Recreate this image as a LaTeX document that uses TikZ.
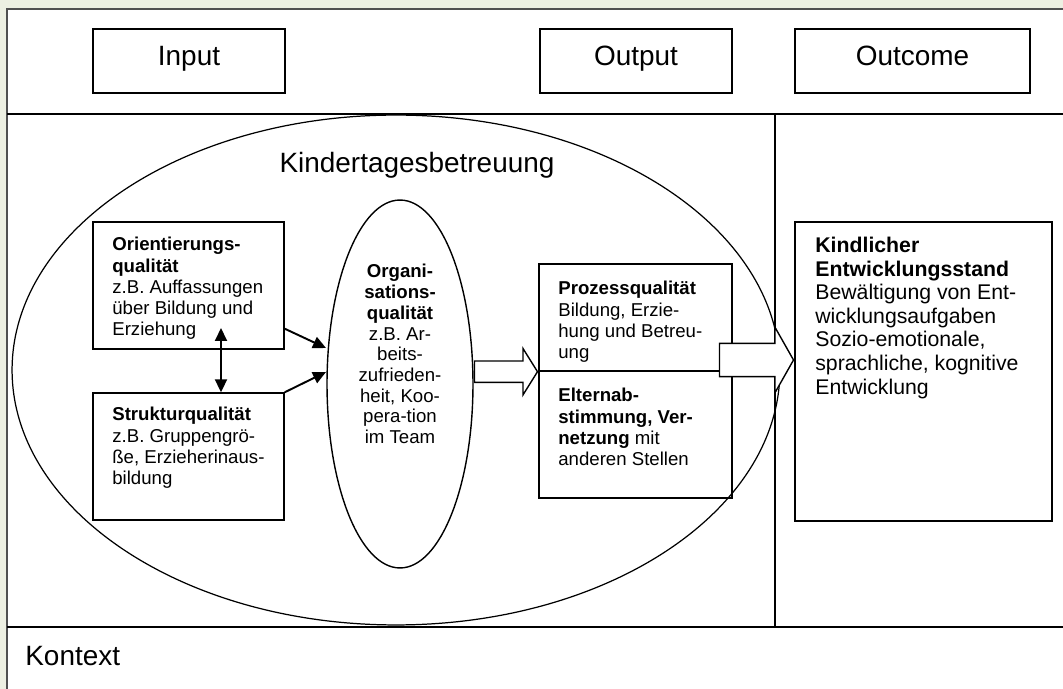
\documentclass[tikz,border=0pt]{standalone}
\usepackage{fontspec}
\setmainfont{Liberation Sans}
\usetikzlibrary{arrows.meta,shapes.geometric,shapes.arrows}
\definecolor{paperbg}{RGB}{237,240,226}
\definecolor{framegrey}{RGB}{80,80,80}
\tikzstyle{ledge} = [draw,line width=0.7pt,-]
\tikzstyle{dedge} = [draw,line width=1.1pt,-{Triangle[length=0.26cm,width=0.24cm]}]
\tikzstyle{ddedge} = [draw,line width=1.1pt,{Triangle[length=0.26cm,width=0.24cm]}-{Triangle[length=0.26cm,width=0.24cm]}]
\tikzset{
  headbox/.style = {draw, line width=0.8pt, minimum height=1.28cm, inner sep=0pt,
    text height=0.716em, text depth=0.25em, font=\fontsize{15.9}{18}\selectfont},
  qbox/.style = {draw, line width=0.8pt, inner sep=0pt},
  qtext/.style = {anchor=north west, align=left, inner sep=0pt,
    font=\fontsize{10.6}{12.1}\selectfont},% text in den kaestchen
  ktext/.style = {anchor=north west, align=left, inner sep=0pt,
    font=\fontsize{12.1}{13.4}\selectfont},
  hollowarrow/.style = {single arrow, draw, fill=white, line width=0.8pt, inner xsep=0pt},
}

\begin{document}
\begin{tikzpicture}[x=0.02cm,y=-0.02cm]
                    \fill[paperbg] (0,0) rectangle (1063,689);
                    \fill[white] (7,9) rectangle (1063,689);
                    \draw[framegrey,line width=1.3pt] (7,689) -- (7,9) -- (1063,9);

                    % zeilen und spalten
                    \coordinate (l1) at (7,114);
                    \coordinate (r1) at (1063,114);
                    \coordinate (l2) at (7,627);
                    \coordinate (r2) at (1063,627);
                    \coordinate (s1) at (775,114);
                    \path[ledge] (l1) -- (r1);
                    \path[ledge] (l2) -- (r2);
                    \path[ledge] (s1) -- (s1 |- l2);

                    \node[headbox, minimum width=3.84cm] (input) at (189,61) {Input};
                    \node[headbox, minimum width=3.84cm] (output) at (636,61) {Output};
                    \node[headbox, minimum width=4.7cm] (outcome) at (912.5,61) {Outcome};

                    \node[ellipse, draw, line width=0.7pt, inner sep=0pt,
                          minimum width=15.36cm, minimum height=10.2cm] (kita) at (396,370) {};
                    \node[font=\fontsize{15.9}{18}\selectfont] (kitatitle) at (417,165) {Kindertagesbetreuung};

                    \node[qbox, minimum width=3.82cm, minimum height=2.54cm] (orient) at (188.5,285.5) {};
                    \node[qtext] (orienttext) at (112,237) {\textbf{Orientierungs-}\\\textbf{qualität}\\z.B. Auffassungen\\über Bildung und\\Erziehung};
                    \node[qbox, minimum width=3.82cm, minimum height=2.54cm] (strukt) at (188.5,456.5) {};
                    \node[qtext] (strukttext) at (112,407) {\textbf{Strukturqualität}\\z.B. Gruppengrö-\\ße, Erzieherinaus-\\bildung};

                    \node[ellipse, draw, line width=0.8pt, inner sep=0pt,
                          minimum width=2.92cm, minimum height=7.36cm] (orga) at (400,384) {};
                    \node[qtext, anchor=north, align=center,
                          font=\fontsize{10.6}{11.8}\selectfont] (orgatext) at (400,264) {\textbf{Organi-}\\\textbf{sations-}\\\textbf{qualität}\\z.B. Ar-\\beits-\\zufrieden-\\heit, Koo-\\pera-tion\\im Team};

                    \node[qbox, minimum width=3.86cm, minimum height=2.14cm] (prozess) at (635.5,317.5) {};
                    \node[qtext] (prozesstext) at (558,281) {\textbf{Prozessqualität}\\Bildung, Erzie-\\hung und Betreu-\\ung};
                    \node[qbox, minimum width=3.86cm, minimum height=2.54cm] (eltern) at (635.5,434.5) {};
                    \node[qtext] (elterntext) at (558,388) {\textbf{Elternab-}\\\textbf{stimmung, Ver-}\\\textbf{netzung} mit\\anderen Stellen};

                    \node[qbox, minimum width=5.14cm, minimum height=5.98cm] (kind) at (923.5,371.5) {};
                    \node[ktext] (kindtext) at (815,237) {\textbf{Kindlicher}\\\textbf{Entwicklungsstand}\\Bewältigung von Ent-\\wicklungsaufgaben\\Sozio-emotionale,\\sprachliche, kognitive\\Entwicklung};

                    \node[font=\fontsize{15.9}{18}\selectfont, anchor=west, inner sep=0pt] (kontext) at (25,656) {Kontext};

                    % pfeile
                    \coordinate (o1) at (326,348);
                    \coordinate (o2) at (326,372);
                    \coordinate (d1) at (221,328);
                    \path[dedge] ([yshift=0.42cm]orient.south east) -- (o1);
                    \path[dedge] (strukt.north east) -- (o2);
                    \path[ddedge] (d1) -- (d1 |- strukt.north);

                    \node[hollowarrow, anchor=tip, inner ysep=0.2cm, minimum height=1.26cm,
                          single arrow head extend=0.25cm, single arrow tip angle=116] (pfeil1) at (prozess.south west) {};
                    \node[hollowarrow, anchor=tip, inner ysep=0.32cm, minimum height=1.48cm,
                          single arrow head extend=0.32cm, single arrow tip angle=121] (pfeil2) at ([yshift=0.23cm]kind.west) {};

                    \pgfresetboundingbox
                    \path [use as bounding box] (0,0) rectangle (1063,689);
                \end{tikzpicture}
\end{document}
